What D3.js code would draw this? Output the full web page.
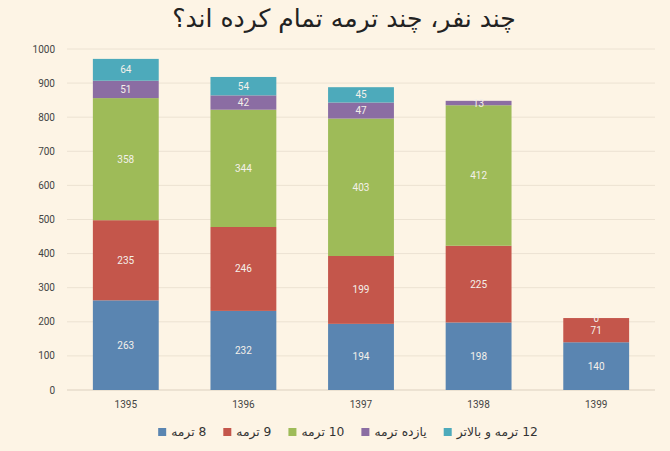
<!DOCTYPE html>
<html>
<head>
<meta charset="utf-8">
<script src="https://cdn.jsdelivr.net/npm/d3@7"></script>
<style>
  body { margin: 0; background: #fdf4e5; }
  svg { display: block; }
</style>
</head>
<body>
<div class="canvas"></div>
<script>
const dims = { width: 670, height: 451 };
const margin = { top: 49, right: 15, bottom: 61, left: 67 };

const graphWidth = dims.width - margin.left - margin.right;
const graphHeight = dims.height - margin.top - margin.bottom;

// data
const years = ['1395', '1396', '1397', '1398', '1399'];
const seriesNames = ['8 ترمه', '9 ترمه', '10 ترمه', 'یازده ترمه', '12 ترمه و بالاتر'];
const term8 = [263, 232, 194, 198, 140];
const term9 = [235, 246, 199, 225, 71];
const term10 = [358, 344, 403, 412, 0];
const term11 = [51, 42, 47, 13, null];
const term12 = [64, 54, 45, null, null];
const yTicks = [0, 100, 200, 300, 400, 500, 600, 700, 800, 900, 1000];
const colors = ['#5a85b1', '#c4564b', '#9ebb58', '#8b6da3', '#4daabb'];

const allSeries = [term8, term9, term10, term11, term12];
const rows = years.map((y, i) => {
  const r = { year: y };
  seriesNames.forEach((s, j) => r[s] = allSeries[j][i]);
  return r;
});

const svg = d3.select('.canvas').append('svg')
  .attr('width', dims.width)
  .attr('height', dims.height);

const graph = svg.append('g')
  .attr('transform', `translate(${margin.left}, ${margin.top})`);

const x = d3.scaleBand()
  .domain(years)
  .range([0, graphWidth])
  .paddingInner(0.44)
  .paddingOuter(0.22);

const y = d3.scaleLinear()
  .domain([0, 1000])
  .range([graphHeight, 0]);

// gridlines
graph.selectAll('line.grid')
  .data(yTicks)
  .enter()
  .append('line')
    .attr('class', 'grid')
    .attr('x1', 0)
    .attr('x2', graphWidth)
    .attr('y1', d => y(d))
    .attr('y2', d => y(d))
    .attr('stroke', d => d === 0 ? '#dcd0bf' : '#ece2d2')
    .attr('stroke-width', 1);

// y labels
graph.selectAll('text.ytick')
  .data(yTicks)
  .enter()
  .append('text')
    .attr('class', 'ytick')
    .attr('x', -12)
    .attr('y', d => y(d))
    .attr('dy', '0.35em')
    .attr('text-anchor', 'end')
    .attr('fill', '#444')
    .style('font-family', 'Roboto, sans-serif')
    .style('font-size', '10px')
    .text(d => d);

// x labels
graph.selectAll('text.xtick')
  .data(years)
  .enter()
  .append('text')
    .attr('class', 'xtick')
    .attr('x', d => x(d) + x.bandwidth() / 2)
    .attr('y', graphHeight + 18)
    .attr('text-anchor', 'middle')
    .attr('fill', '#444')
    .style('font-family', 'Roboto, sans-serif')
    .style('font-size', '10px')
    .text(d => d);

const stack = d3.stack()
  .keys(seriesNames)
  .value((d, key) => d[key] || 0);

const layers = stack(rows);

const groups = graph.selectAll('g.layer')
  .data(layers)
  .enter()
  .append('g')
    .attr('class', 'layer')
    .attr('fill', (d, i) => colors[i]);

groups.selectAll('rect')
  .data(d => d)
  .enter()
  .append('rect')
    .attr('x', d => x(d.data.year))
    .attr('width', x.bandwidth())
    .attr('y', d => y(d[1]))
    .attr('height', d => y(d[0]) - y(d[1]));

// value labels (skip empty ones)
layers.forEach((layer, i) => {
  graph.selectAll(null)
    .data(layer.filter(d => d.data[layer.key] !== null))
    .enter()
    .append('text')
      .attr('x', d => x(d.data.year) + x.bandwidth() / 2)
      .attr('y', d => y((d[0] + d[1]) / 2))
      .attr('dy', '0.35em')
      .attr('text-anchor', 'middle')
      .attr('fill', '#f4f0ea')
      .style('font-family', 'Roboto, sans-serif')
      .style('font-size', '10px')
      .text(d => d.data[layer.key]);
});

// title
svg.append('text')
  .attr('x', 344)
  .attr('y', 27)
  .attr('text-anchor', 'middle')
  .attr('fill', '#222')
  .style('font-family', '"DejaVu Sans", sans-serif')
  .style('font-size', '25px')
  .text('چند نفر، چند ترمه تمام کرده اند؟');

// legend
const legend = svg.append('g');
let lx = 0;
seriesNames.forEach((name, i) => {
  legend.append('rect')
    .attr('x', lx)
    .attr('y', -4)
    .attr('width', 8)
    .attr('height', 8)
    .attr('fill', colors[i]);
  const t = legend.append('text')
    .attr('x', lx + 13)
    .attr('y', 0)
    .attr('dy', '0.35em')
    .attr('direction', 'rtl')
    .attr('text-anchor', 'end')
    .attr('fill', '#333')
    .style('font-family', '"DejaVu Sans", sans-serif')
    .style('font-size', '12.3px')
    .text(name);
  lx += 13 + t.node().getComputedTextLength() + 17;
});
const legendWidth = lx - 17;
legend.attr('transform', `translate(${348 - legendWidth / 2}, 432)`);
</script>
</body>
</html>
